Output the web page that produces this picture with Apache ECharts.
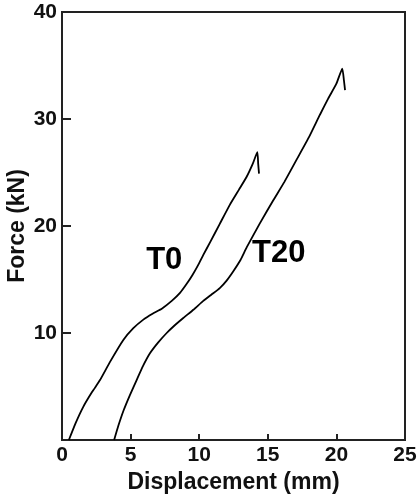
<!DOCTYPE html>
<html>
<head>
<meta charset="utf-8">
<script src="https://cdn.jsdelivr.net/npm/echarts@6/dist/echarts.min.js"></script>
<style>
  html, body { margin: 0; padding: 0; background: #fff; }
  #chart { width: 419px; height: 495px; }
</style>
</head>
<body>
<div id="chart"></div>
<script>
// displacement (mm) / force (kN)
var t0X = [0.5, 1.0, 1.55, 2.2, 2.77, 3.5, 4.47, 5.2, 5.93, 6.6, 7.3, 8.0, 8.6, 9.09, 9.5, 9.9, 10.3, 10.8, 11.5, 12.24, 12.9, 13.46, 13.9, 14.24, 14.3, 14.36];
var t0Y = [0.0, 1.6, 3.1, 4.5, 5.6, 7.3, 9.35, 10.45, 11.25, 11.8, 12.3, 13.0, 13.75, 14.6, 15.4, 16.3, 17.3, 18.5, 20.2, 22.0, 23.4, 24.6, 25.8, 26.9, 25.8, 24.9];

var t20X = [3.8, 4.1, 4.5, 4.95, 5.44, 5.9, 6.41, 7.0, 7.63, 8.2, 8.84, 9.6, 10.3, 10.9, 11.5, 12.0, 12.5, 13.0, 13.46, 14.4, 15.4, 16.2, 17.1, 18.0, 18.8, 19.4, 20.0, 20.43, 20.55, 20.63];
var t20Y = [0.0, 1.3, 2.8, 4.2, 5.6, 6.9, 8.1, 9.1, 10.0, 10.7, 11.4, 12.2, 13.0, 13.6, 14.2, 14.9, 15.8, 16.8, 18.0, 20.2, 22.4, 24.1, 26.2, 28.3, 30.4, 31.9, 33.3, 34.7, 33.6, 32.7];

var curveNames = ['T0', 'T20'];
var labelAt = [[7.45, 16.8], [15.8, 17.4]];

function pairs(xs, ys) {
  return xs.map(function (x, i) { return [x, ys[i]]; });
}

var chart = echarts.init(document.getElementById('chart'));
var font = 'Liberation Sans, Arial, sans-serif';

var axisText = { color: '#111', fontSize: 21, fontWeight: 'bold', fontFamily: font };
var nameText = { color: '#111', fontSize: 23, fontWeight: 'bold', fontFamily: font };

var option = {
  animation: false,
  grid: {
    left: 62, right: 14, top: 12, bottom: 55,
    outerBoundsMode: 'none', containLabel: false,
    show: true, borderColor: '#222', borderWidth: 2
  },
  xAxis: {
    type: 'value', min: 0, max: 25, interval: 5,
    name: 'Displacement (mm)', nameLocation: 'middle', nameGap: 31,
    nameMoveOverlap: false,
    nameTextStyle: nameText,
    axisLine: { lineStyle: { color: '#222', width: 2 } },
    axisTick: { inside: true, length: 6, lineStyle: { color: '#222', width: 2 } },
    axisLabel: Object.assign({ margin: 5 }, axisText),
    splitLine: { show: false }
  },
  yAxis: {
    type: 'value', min: 0, max: 40, interval: 10,
    name: 'Force (kN)', nameLocation: 'middle', nameGap: 33,
    nameMoveOverlap: false,
    nameTextStyle: nameText,
    axisLine: { lineStyle: { color: '#222', width: 2 } },
    axisTick: { inside: true, length: 9, lineStyle: { color: '#222', width: 2 } },
    axisLabel: Object.assign({
      margin: 5,
      formatter: function (v) { return v === 0 ? '' : String(v); }
    }, axisText),
    splitLine: { show: false }
  },
  series: [pairs(t0X, t0Y), pairs(t20X, t20Y)].map(function (d, i) {
    return {
      name: curveNames[i],
      type: 'line',
      data: d,
      smooth: 0.15,
      showSymbol: false,
      lineStyle: { color: '#000', width: 1.8 },
      markPoint: {
        symbol: 'circle', symbolSize: 0,
        data: [{ coord: labelAt[i], value: curveNames[i] }],
        label: {
          show: true, position: 'inside', formatter: curveNames[i],
          color: '#000', fontSize: 31, fontWeight: 'bold', fontFamily: font
        }
      }
    };
  })
};

chart.setOption(option);
</script>
</body>
</html>
